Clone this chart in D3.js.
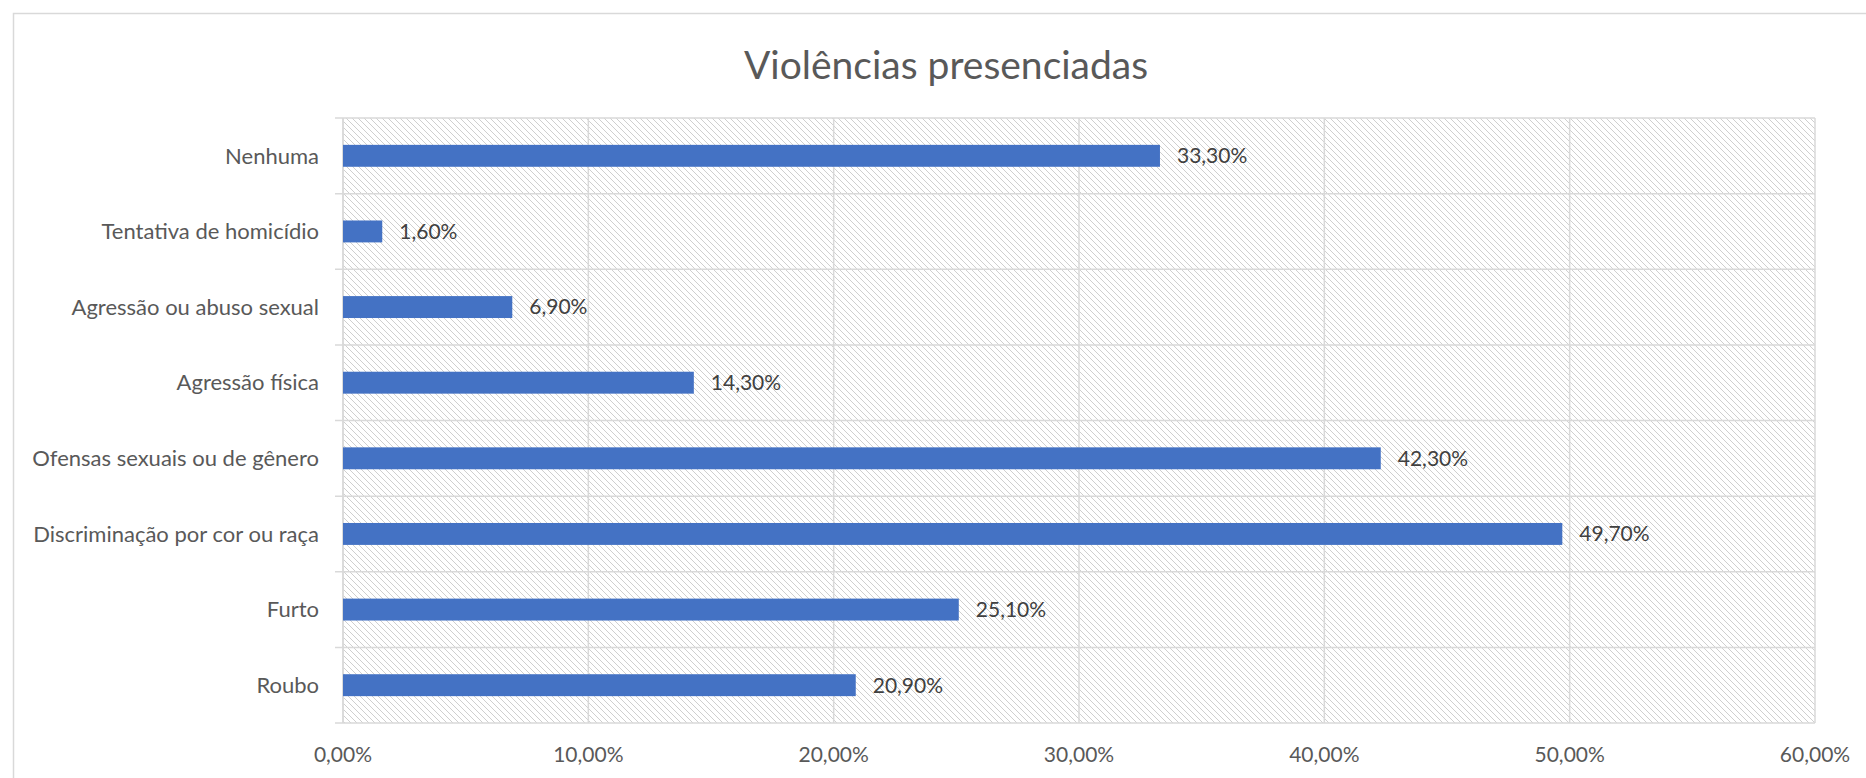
<!DOCTYPE html>
<html>
<head>
<meta charset="utf-8">
<script src="https://cdn.jsdelivr.net/npm/d3@7"></script>
<style>
  html, body { margin: 0; padding: 0; background: #fff; }
  svg { display: block; }
  text { font-family: Lato, "Open Sans", sans-serif; }
</style>
</head>
<body>
<svg id="chart" width="1866" height="778"></svg>
<script>
// ---- data ----
const categories = [
  "Nenhuma",
  "Tentativa de homicídio",
  "Agressão ou abuso sexual",
  "Agressão física",
  "Ofensas sexuais ou de gênero",
  "Discriminação por cor ou raça",
  "Furto",
  "Roubo"
];
const values = [0.333, 0.016, 0.069, 0.143, 0.423, 0.497, 0.251, 0.209];
const xTicks = [0, 0.1, 0.2, 0.3, 0.4, 0.5, 0.6];
const title = "Violências presenciadas";

// ---- layout ----
const W = 1866, H = 778;
const plot = { left: 343, right: 1815, top: 118, bottom: 723 };

const locale = d3.formatLocale({ decimal: ",", thousands: ".", grouping: [3], currency: ["R$", ""] });
const pct = locale.format(".2%");

const svg = d3.select("#chart");

// hatch pattern
const defs = svg.append("defs");
const pat = defs.append("pattern")
  .attr("id", "hatch")
  .attr("patternUnits", "userSpaceOnUse")
  .attr("width", 6).attr("height", 6);
pat.append("rect").attr("width", 6).attr("height", 6).attr("fill", "#ffffff");
pat.append("path")
  .attr("d", "M-1,-1 L7,7 M-4,2 L2,8 M4,-2 L8,2")
  .attr("stroke", "#cfcfcf").attr("stroke-width", 1.3).attr("shape-rendering", "crispEdges");

// outer chart border (extends past window on right/bottom)
svg.append("rect")
  .attr("x", 13.5).attr("y", 13.5)
  .attr("width", W + 40).attr("height", H + 40)
  .attr("fill", "none").attr("stroke", "#d9d9d9").attr("stroke-width", 1.5);

const x = d3.scaleLinear().domain([0, 0.6]).range([plot.left, plot.right]);
const y = d3.scaleBand().domain(categories).range([plot.top, plot.bottom])
  .paddingInner(0.71).paddingOuter(0.355);

// plot area background
svg.append("rect")
  .attr("x", plot.left).attr("y", plot.top)
  .attr("width", plot.right - plot.left).attr("height", plot.bottom - plot.top)
  .attr("fill", "url(#hatch)");

// vertical gridlines
svg.append("g").selectAll("line").data(xTicks).join("line")
  .attr("x1", d => x(d)).attr("x2", d => x(d))
  .attr("y1", plot.top).attr("y2", plot.bottom)
  .attr("stroke", "#d9d9d9").attr("stroke-width", 1.5);

// horizontal category separators (with tick marks extending left)
const step = y.step();
const seps = d3.range(categories.length + 1).map(i => plot.top + i * step);
svg.append("g").selectAll("line").data(seps).join("line")
  .attr("x1", plot.left - 8).attr("x2", plot.right)
  .attr("y1", d => d).attr("y2", d => d)
  .attr("stroke", "#d9d9d9").attr("stroke-width", 1.5);

// left axis line
svg.append("line")
  .attr("x1", plot.left).attr("x2", plot.left)
  .attr("y1", plot.top).attr("y2", plot.bottom)
  .attr("stroke", "#d9d9d9").attr("stroke-width", 1.5);

// bars
svg.append("g").selectAll("rect").data(categories).join("rect")
  .attr("x", x(0)).attr("y", d => y(d))
  .attr("width", (d, i) => x(values[i]) - x(0))
  .attr("height", y.bandwidth())
  .attr("fill", "#4472c4");

// data labels
svg.append("g").selectAll("text").data(categories).join("text")
  .attr("x", (d, i) => x(values[i]) + 17)
  .attr("y", d => y(d) + y.bandwidth() / 2)
  .attr("dy", "0.35em")
  .attr("font-size", 21)
  .attr("fill", "#404040")
  .text((d, i) => pct(values[i]));

// category labels
svg.append("g").selectAll("text").data(categories).join("text")
  .attr("x", 319)
  .attr("y", d => y(d) + y.bandwidth() / 2)
  .attr("dy", "0.35em")
  .attr("text-anchor", "end")
  .attr("font-size", 22)
  .attr("fill", "#595959")
  .text(d => d);

// x tick labels
svg.append("g").selectAll("text").data(xTicks).join("text")
  .attr("x", d => x(d))
  .attr("y", 762)
  .attr("text-anchor", "middle")
  .attr("font-size", 21)
  .attr("fill", "#595959")
  .text(d => pct(d));

// title
svg.append("text")
  .attr("x", 946).attr("y", 79)
  .attr("text-anchor", "middle")
  .attr("font-size", 39)
  .attr("fill", "#595959")
  .text(title);
</script>
</body>
</html>
